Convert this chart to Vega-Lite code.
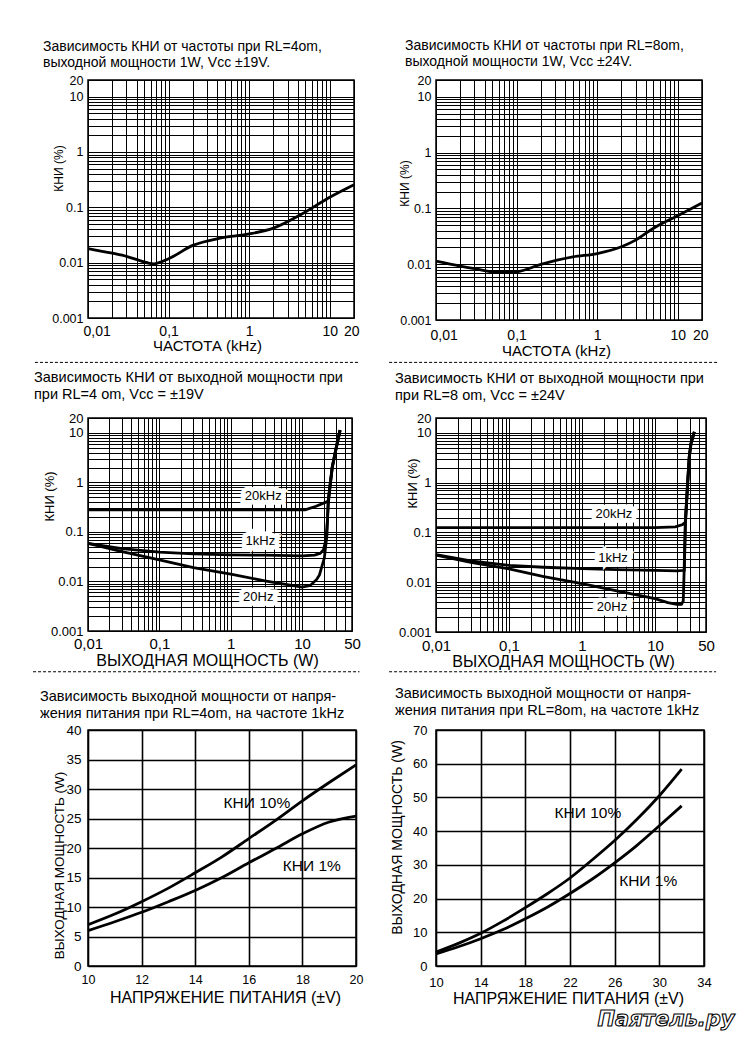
{
  "$schema": "https://vega.github.io/schema/vega-lite/v6.json",
  "background": "white",
  "padding": {"left": 32, "top": 37, "right": 5, "bottom": 5},
  "columns": 2,
  "bounds": "flush",
  "spacing": {"row": 38, "column": 80},
  "config": {
    "font": "Liberation Sans",
    "view": {"stroke": "black", "strokeWidth": 1.5},
    "axis": {"domain": false, "ticks": false, "grid": true, "gridColor": "black", "gridOpacity": 1, "gridWidth": 1, "labelColor": "black", "titleColor": "black", "labelFont": "Liberation Sans", "titleFont": "Liberation Sans", "titleFontWeight": "normal", "labelOverlap": false, "labelBound": false, "labelFlush": false},
    "title": {"font": "Liberation Sans", "fontSize": 14.5, "fontWeight": "normal", "color": "black", "lineHeight": 16.5}
  },
  "concat": [
    {
      "width": 266, "height": 238,
      "title": {"text": ["Зависимость КНИ от частоты при RL=4om,", "выходной мощности 1W, Vcc ±19V."], "anchor": "start", "frame": "group", "dx": -45, "offset": 4, "fontSize": 14},
      "data": {"values": [
        {"x": 0.01, "y": 0.018}, {"x": 0.02, "y": 0.0148}, {"x": 0.03, "y": 0.013}, {"x": 0.045, "y": 0.0108}, {"x": 0.065, "y": 0.0095}, {"x": 0.1, "y": 0.0118}, {"x": 0.2, "y": 0.0205}, {"x": 0.45, "y": 0.028}, {"x": 1, "y": 0.033}, {"x": 2, "y": 0.042}, {"x": 4.4, "y": 0.074}, {"x": 10, "y": 0.152}, {"x": 20, "y": 0.256}
      ]},
      "mark": {"type": "line", "color": "black", "strokeWidth": 2.8, "interpolate": "monotone"},
      "encoding": {
        "x": {"field": "x", "type": "quantitative", "scale": {"type": "log", "domain": [0.01, 20]},
          "axis": {"values": [0.01,0.02,0.03,0.04,0.05,0.06,0.07,0.08,0.09,0.1,0.2,0.3,0.4,0.5,0.6,0.7,0.8,0.9,1,2,3,4,5,6,7,8,9,10,20],
            "labelExpr": "indexof([0.01,0.1,1,10,20], datum.value) >= 0 ? replace(toString(datum.value), '.', ',') : ''",
            "labelFontSize": 14, "labelPadding": 6, "labelFlush": true, "labelFlushOffset": 5,
            "title": "ЧАСТОТА  (kHz)", "titleFontSize": 15, "titleX": 119, "titleY": 27, "titleBaseline": "middle"}},
        "y": {"field": "y", "type": "quantitative", "scale": {"type": "log", "domain": [0.001, 20]},
          "axis": {"values": [0.001,0.002,0.003,0.004,0.005,0.006,0.007,0.008,0.009,0.01,0.02,0.03,0.04,0.05,0.06,0.07,0.08,0.09,0.1,0.2,0.3,0.4,0.5,0.6,0.7,0.8,0.9,1,2,3,4,5,6,7,8,9,10,20],
            "labelExpr": "indexof([0.001,0.01,0.1,1,10,20], datum.value) >= 0 ? toString(datum.value) : ''",
            "labelFontSize": 12.5, "labelPadding": 5,
            "title": "КНИ (%)", "titleFontSize": 12, "titleX": -30, "titleY": 88, "titleBaseline": "middle"}}
      }
    },
    {
      "width": 266, "height": 240,
      "title": {"text": ["Зависимость КНИ от частоты при RL=8om,", "выходной мощности 1W, Vcc ±24V."], "anchor": "start", "frame": "group", "dx": -31, "offset": 5, "fontSize": 14},
      "data": {"values": [
        {"x": 0.01, "y": 0.0113}, {"x": 0.02, "y": 0.0092}, {"x": 0.03, "y": 0.0083}, {"x": 0.06, "y": 0.0071}, {"x": 0.1, "y": 0.0073}, {"x": 0.2, "y": 0.0099}, {"x": 0.5, "y": 0.0135}, {"x": 1, "y": 0.0155}, {"x": 2, "y": 0.0205}, {"x": 3, "y": 0.027}, {"x": 5, "y": 0.044}, {"x": 10, "y": 0.074}, {"x": 20, "y": 0.125}
      ]},
      "mark": {"type": "line", "color": "black", "strokeWidth": 2.8, "interpolate": "monotone"},
      "encoding": {
        "x": {"field": "x", "type": "quantitative", "scale": {"type": "log", "domain": [0.01, 20]},
          "axis": {"values": [0.01,0.02,0.03,0.04,0.05,0.06,0.07,0.08,0.09,0.1,0.2,0.3,0.4,0.5,0.6,0.7,0.8,0.9,1,2,3,4,5,6,7,8,9,10,20],
            "labelExpr": "indexof([0.01,0.1,1,10,20], datum.value) >= 0 ? replace(toString(datum.value), '.', ',') : ''",
            "labelFontSize": 14, "labelPadding": 8, "labelFlush": true, "labelFlushOffset": 6,
            "title": "ЧАСТОТА  (kHz)", "titleFontSize": 15, "titleX": 120, "titleY": 30, "titleBaseline": "middle"}},
        "y": {"field": "y", "type": "quantitative", "scale": {"type": "log", "domain": [0.001, 20]},
          "axis": {"values": [0.001,0.002,0.003,0.004,0.005,0.006,0.007,0.008,0.009,0.01,0.02,0.03,0.04,0.05,0.06,0.07,0.08,0.09,0.1,0.2,0.3,0.4,0.5,0.6,0.7,0.8,0.9,1,2,3,4,5,6,7,8,9,10,20],
            "labelExpr": "indexof([0.001,0.01,0.1,1,10,20], datum.value) >= 0 ? toString(datum.value) : ''",
            "labelFontSize": 12.5, "labelPadding": 5,
            "title": "КНИ (%)", "titleFontSize": 12, "titleX": -32, "titleY": 103, "titleBaseline": "middle"}}
      }
    },
    {
      "width": 268, "height": 22, "view": {"stroke": null},
      "data": {"values": [{}]},
      "mark": {"type": "rule", "strokeDash": [3, 2], "strokeWidth": 1, "color": "black"},
      "encoding": {
        "x": {"datum": -0.198, "type": "quantitative", "scale": {"domain": [0, 1]}, "axis": null},
        "x2": {"datum": 1.011},
        "y": {"datum": 0.8, "type": "quantitative", "scale": {"domain": [0, 1]}, "axis": null}
      }
    },
    {
      "width": 268, "height": 22, "view": {"stroke": null},
      "data": {"values": [{}]},
      "mark": {"type": "rule", "strokeDash": [3, 2], "strokeWidth": 1, "color": "black"},
      "encoding": {
        "x": {"datum": -0.175, "type": "quantitative", "scale": {"domain": [0, 1]}, "axis": null},
        "x2": {"datum": 1.056},
        "y": {"datum": 0.8, "type": "quantitative", "scale": {"domain": [0, 1]}, "axis": null}
      }
    },
    {
      "width": 264, "height": 213,
      "title": {"text": ["Зависимость КНИ от выходной мощности при", "при RL=4 om, Vcc = ±19V"], "anchor": "start", "frame": "group", "dx": -54, "offset": 10},
      "encoding": {
        "x": {"field": "x", "type": "quantitative", "scale": {"type": "log", "domain": [0.01, 50]},
          "axis": {"values": [0.01,0.02,0.03,0.04,0.05,0.06,0.07,0.08,0.09,0.1,0.2,0.3,0.4,0.5,0.6,0.7,0.8,0.9,1,2,3,4,5,6,7,8,9,10,20,30,40,50],
            "labelExpr": "indexof([0.01,0.1,1,10,50], datum.value) >= 0 ? replace(toString(datum.value), '.', ',') : ''",
            "labelFontSize": 15, "labelPadding": 5,
            "title": "ВЫХОДНАЯ МОЩНОСТЬ (W)", "titleFontSize": 16, "titleX": 119, "titleY": 29, "titleBaseline": "middle"}},
        "y": {"field": "y", "type": "quantitative", "scale": {"type": "log", "domain": [0.001, 20]},
          "axis": {"values": [0.001,0.002,0.003,0.004,0.005,0.006,0.007,0.008,0.009,0.01,0.02,0.03,0.04,0.05,0.06,0.07,0.08,0.09,0.1,0.2,0.3,0.4,0.5,0.6,0.7,0.8,0.9,1,2,3,4,5,6,7,8,9,10,20],
            "labelExpr": "indexof([0.001,0.01,0.1,1,10,20], datum.value) >= 0 ? toString(datum.value) : ''",
            "labelFontSize": 13, "labelPadding": 5,
            "title": "КНИ (%)", "titleFontSize": 13, "titleX": -39, "titleY": 78, "titleBaseline": "middle"}}
      },
      "layer": [
        {
          "data": {"values": [
            {"s": "20kHz", "x": 0.01, "y": 0.28}, {"s": "20kHz", "x": 0.1, "y": 0.28}, {"s": "20kHz", "x": 1, "y": 0.28}, {"s": "20kHz", "x": 11, "y": 0.28}, {"s": "20kHz", "x": 15.7, "y": 0.33}, {"s": "20kHz", "x": 21.6, "y": 0.4}, {"s": "20kHz", "x": 23.2, "y": 0.42}, {"s": "20kHz", "x": 24.5, "y": 0.8}, {"s": "20kHz", "x": 26.4, "y": 2}, {"s": "20kHz", "x": 29.3, "y": 4.2}, {"s": "20kHz", "x": 34, "y": 11.4},
            {"s": "1kHz", "x": 0.01, "y": 0.059}, {"s": "1kHz", "x": 0.03, "y": 0.046}, {"s": "1kHz", "x": 0.1, "y": 0.039}, {"s": "1kHz", "x": 0.3, "y": 0.036}, {"s": "1kHz", "x": 1, "y": 0.0345}, {"s": "1kHz", "x": 3, "y": 0.034}, {"s": "1kHz", "x": 10, "y": 0.033}, {"s": "1kHz", "x": 15, "y": 0.034}, {"s": "1kHz", "x": 18, "y": 0.037}, {"s": "1kHz", "x": 20, "y": 0.044}, {"s": "1kHz", "x": 21.5, "y": 0.07}, {"s": "1kHz", "x": 22.5, "y": 0.15}, {"s": "1kHz", "x": 23.4, "y": 0.4}, {"s": "1kHz", "x": 24.6, "y": 0.8}, {"s": "1kHz", "x": 26.5, "y": 2}, {"s": "1kHz", "x": 29.4, "y": 4.2}, {"s": "1kHz", "x": 34.2, "y": 11.4},
            {"s": "20Hz", "x": 0.01, "y": 0.059}, {"s": "20Hz", "x": 0.03, "y": 0.04}, {"s": "20Hz", "x": 0.1, "y": 0.0274}, {"s": "20Hz", "x": 0.3, "y": 0.019}, {"s": "20Hz", "x": 1, "y": 0.014}, {"s": "20Hz", "x": 3, "y": 0.0103}, {"s": "20Hz", "x": 10, "y": 0.0077}, {"s": "20Hz", "x": 13, "y": 0.0083}, {"s": "20Hz", "x": 16, "y": 0.011}, {"s": "20Hz", "x": 17.5, "y": 0.0136}, {"s": "20Hz", "x": 20.5, "y": 0.03}, {"s": "20Hz", "x": 22.3, "y": 0.088}, {"s": "20Hz", "x": 23.1, "y": 0.4}, {"s": "20Hz", "x": 24.4, "y": 0.8}, {"s": "20Hz", "x": 26.3, "y": 2}, {"s": "20Hz", "x": 29.2, "y": 4.2}, {"s": "20Hz", "x": 33.8, "y": 11.4}
          ]},
          "mark": {"type": "line", "color": "black", "strokeWidth": 2.8},
          "encoding": {"detail": {"field": "s"}}
        },
        {
          "data": {"values": [{"x": 2.85, "y": 0.53, "label": "20kHz"}, {"x": 2.6, "y": 0.065, "label": "1kHz"}, {"x": 2.43, "y": 0.0048, "label": "20Hz"}]},
          "mark": {"type": "text", "fontSize": 13, "fill": "white", "stroke": "white", "strokeWidth": 9},
          "encoding": {"text": {"field": "label"}}
        },
        {
          "data": {"values": [{"x": 2.85, "y": 0.53, "label": "20kHz"}, {"x": 2.6, "y": 0.065, "label": "1kHz"}, {"x": 2.43, "y": 0.0048, "label": "20Hz"}]},
          "mark": {"type": "text", "fontSize": 13, "color": "black"},
          "encoding": {"text": {"field": "label"}}
        }
      ]
    },
    {
      "width": 270, "height": 214,
      "title": {"text": ["Зависимость КНИ от выходной мощности при", "при RL=8 om, Vcc = ±24V"], "anchor": "start", "frame": "group", "dx": -41, "offset": 9},
      "encoding": {
        "x": {"field": "x", "type": "quantitative", "scale": {"type": "log", "domain": [0.01, 50]},
          "axis": {"values": [0.01,0.02,0.03,0.04,0.05,0.06,0.07,0.08,0.09,0.1,0.2,0.3,0.4,0.5,0.6,0.7,0.8,0.9,1,2,3,4,5,6,7,8,9,10,20,30,40,50],
            "labelExpr": "indexof([0.01,0.1,1,10,50], datum.value) >= 0 ? replace(toString(datum.value), '.', ',') : ''",
            "labelFontSize": 15, "labelPadding": 6,
            "title": "ВЫХОДНАЯ МОЩНОСТЬ (W)", "titleFontSize": 16, "titleX": 127, "titleY": 29, "titleBaseline": "middle"}},
        "y": {"field": "y", "type": "quantitative", "scale": {"type": "log", "domain": [0.001, 20]},
          "axis": {"values": [0.001,0.002,0.003,0.004,0.005,0.006,0.007,0.008,0.009,0.01,0.02,0.03,0.04,0.05,0.06,0.07,0.08,0.09,0.1,0.2,0.3,0.4,0.5,0.6,0.7,0.8,0.9,1,2,3,4,5,6,7,8,9,10,20],
            "labelExpr": "indexof([0.001,0.01,0.1,1,10,20], datum.value) >= 0 ? toString(datum.value) : ''",
            "labelFontSize": 13, "labelPadding": 5,
            "title": "КНИ (%)", "titleFontSize": 13, "titleX": -24, "titleY": 65, "titleBaseline": "middle"}}
      },
      "layer": [
        {
          "data": {"values": [
            {"s": "20kHz", "x": 0.01, "y": 0.125}, {"s": "20kHz", "x": 0.1, "y": 0.125}, {"s": "20kHz", "x": 1, "y": 0.125}, {"s": "20kHz", "x": 10, "y": 0.125}, {"s": "20kHz", "x": 19, "y": 0.13}, {"s": "20kHz", "x": 24, "y": 0.145}, {"s": "20kHz", "x": 26.1, "y": 0.16}, {"s": "20kHz", "x": 28, "y": 0.96}, {"s": "20kHz", "x": 29.5, "y": 3.3}, {"s": "20kHz", "x": 31.1, "y": 6.1}, {"s": "20kHz", "x": 34.6, "y": 10.5},
            {"s": "1kHz", "x": 0.01, "y": 0.036}, {"s": "1kHz", "x": 0.03, "y": 0.027}, {"s": "1kHz", "x": 0.1, "y": 0.0219}, {"s": "1kHz", "x": 0.3, "y": 0.02}, {"s": "1kHz", "x": 1, "y": 0.0188}, {"s": "1kHz", "x": 3, "y": 0.018}, {"s": "1kHz", "x": 10, "y": 0.0174}, {"s": "1kHz", "x": 20, "y": 0.017}, {"s": "1kHz", "x": 25.2, "y": 0.0174}, {"s": "1kHz", "x": 26.2, "y": 0.16}, {"s": "1kHz", "x": 28.1, "y": 0.96}, {"s": "1kHz", "x": 29.6, "y": 3.3}, {"s": "1kHz", "x": 31.2, "y": 6.1}, {"s": "1kHz", "x": 34.7, "y": 10.5},
            {"s": "20Hz", "x": 0.01, "y": 0.035}, {"s": "20Hz", "x": 0.03, "y": 0.025}, {"s": "20Hz", "x": 0.1, "y": 0.0185}, {"s": "20Hz", "x": 0.3, "y": 0.013}, {"s": "20Hz", "x": 1, "y": 0.0094}, {"s": "20Hz", "x": 3, "y": 0.0067}, {"s": "20Hz", "x": 10, "y": 0.0047}, {"s": "20Hz", "x": 15, "y": 0.0039}, {"s": "20Hz", "x": 20, "y": 0.0036}, {"s": "20Hz", "x": 23, "y": 0.0036}, {"s": "20Hz", "x": 24.4, "y": 0.0042}, {"s": "20Hz", "x": 25.1, "y": 0.0174}, {"s": "20Hz", "x": 26, "y": 0.16}, {"s": "20Hz", "x": 27.9, "y": 0.96}, {"s": "20Hz", "x": 29.4, "y": 3.3}, {"s": "20Hz", "x": 31, "y": 6.1}, {"s": "20Hz", "x": 34.5, "y": 10.5}
          ]},
          "mark": {"type": "line", "color": "black", "strokeWidth": 2.8},
          "encoding": {"detail": {"field": "s"}}
        },
        {
          "data": {"values": [{"x": 2.74, "y": 0.235, "label": "20kHz"}, {"x": 2.66, "y": 0.0307, "label": "1kHz"}, {"x": 2.58, "y": 0.00318, "label": "20Hz"}]},
          "mark": {"type": "text", "fontSize": 13, "fill": "white", "stroke": "white", "strokeWidth": 9},
          "encoding": {"text": {"field": "label"}}
        },
        {
          "data": {"values": [{"x": 2.74, "y": 0.235, "label": "20kHz"}, {"x": 2.66, "y": 0.0307, "label": "1kHz"}, {"x": 2.58, "y": 0.00318, "label": "20Hz"}]},
          "mark": {"type": "text", "fontSize": 13, "color": "black"},
          "encoding": {"text": {"field": "label"}}
        }
      ]
    },
    {
      "width": 268, "height": 22, "view": {"stroke": null},
      "data": {"values": [{}]},
      "mark": {"type": "rule", "strokeDash": [3, 2], "strokeWidth": 1, "color": "black"},
      "encoding": {
        "x": {"datum": -0.205, "type": "quantitative", "scale": {"domain": [0, 1]}, "axis": null},
        "x2": {"datum": 1.013},
        "y": {"datum": 0.92, "type": "quantitative", "scale": {"domain": [0, 1]}, "axis": null}
      }
    },
    {
      "width": 268, "height": 22, "view": {"stroke": null},
      "data": {"values": [{}]},
      "mark": {"type": "rule", "strokeDash": [3, 2], "strokeWidth": 1, "color": "black"},
      "encoding": {
        "x": {"datum": -0.175, "type": "quantitative", "scale": {"domain": [0, 1]}, "axis": null},
        "x2": {"datum": 1.045},
        "y": {"datum": 0.92, "type": "quantitative", "scale": {"domain": [0, 1]}, "axis": null}
      }
    },
    {
      "width": 268, "height": 236,
      "title": {"text": ["Зависимость выходной мощности от напря-", "жения питания при RL=4om, на частоте 1kHz"], "anchor": "start", "frame": "group", "dx": -48, "offset": 2},
      "encoding": {
        "x": {"field": "x", "type": "quantitative", "scale": {"domain": [10, 20]},
          "axis": {"values": [10, 12, 14, 16, 18, 20], "gridWidth": 1.6, "labelFontSize": 12.5, "labelPadding": 7,
            "title": "НАПРЯЖЕНИЕ ПИТАНИЯ  (±V)", "titleFontSize": 16, "titleX": 137, "titleY": 31, "titleBaseline": "middle"}},
        "y": {"field": "y", "type": "quantitative", "scale": {"domain": [0, 40]},
          "axis": {"values": [0, 5, 10, 15, 20, 25, 30, 35, 40], "gridWidth": 1.6, "labelFontSize": 13.5, "labelPadding": 7,
            "title": "ВЫХОДНАЯ МОЩНОСТЬ (W)", "titleFontSize": 13.5, "titleX": -29, "titleY": 135, "titleBaseline": "middle"}}
      },
      "layer": [
        {
          "data": {"values": [
            {"s": "10", "x": 10, "y": 7}, {"s": "10", "x": 11, "y": 8.8}, {"s": "10", "x": 12, "y": 10.9}, {"s": "10", "x": 13, "y": 13.2}, {"s": "10", "x": 14, "y": 15.8}, {"s": "10", "x": 15, "y": 18.5}, {"s": "10", "x": 16, "y": 21.6}, {"s": "10", "x": 17, "y": 24.7}, {"s": "10", "x": 18, "y": 28}, {"s": "10", "x": 19, "y": 31.1}, {"s": "10", "x": 20, "y": 34.1},
            {"s": "1", "x": 10, "y": 6}, {"s": "1", "x": 11, "y": 7.5}, {"s": "1", "x": 12, "y": 9.1}, {"s": "1", "x": 13, "y": 10.9}, {"s": "1", "x": 14, "y": 12.8}, {"s": "1", "x": 15, "y": 15}, {"s": "1", "x": 16, "y": 17.5}, {"s": "1", "x": 17, "y": 19.9}, {"s": "1", "x": 18, "y": 22.4}, {"s": "1", "x": 19, "y": 24.4}, {"s": "1", "x": 20, "y": 25.4}
          ]},
          "mark": {"type": "line", "color": "black", "strokeWidth": 2.8, "interpolate": "monotone"},
          "encoding": {"detail": {"field": "s"}}
        },
        {
          "data": {"values": [{"x": 16.3, "y": 27.6, "label": "КНИ 10%"}, {"x": 18.35, "y": 16.9, "label": "КНИ 1%"}]},
          "mark": {"type": "text", "fontSize": 15.5, "color": "black"},
          "encoding": {"text": {"field": "label"}}
        }
      ]
    },
    {
      "width": 268, "height": 236,
      "title": {"text": ["Зависимость выходной мощности от напря-", "жения питания при RL=8om, на частоте 1kHz"], "anchor": "start", "frame": "group", "dx": -41, "offset": 6},
      "layer": [
        {
          "data": {"values": [
            {"s": "10", "x": 10, "y": 4.1}, {"s": "10", "x": 12, "y": 6.7}, {"s": "10", "x": 14, "y": 9.7}, {"s": "10", "x": 16, "y": 13.3}, {"s": "10", "x": 18, "y": 17.3}, {"s": "10", "x": 20, "y": 21.5}, {"s": "10", "x": 22, "y": 26.1}, {"s": "10", "x": 24, "y": 31.5}, {"s": "10", "x": 26, "y": 37.2}, {"s": "10", "x": 28, "y": 43.5}, {"s": "10", "x": 30, "y": 50.5}, {"s": "10", "x": 32, "y": 58.4},
            {"s": "1", "x": 10, "y": 3.6}, {"s": "1", "x": 12, "y": 5.7}, {"s": "1", "x": 14, "y": 8.1}, {"s": "1", "x": 16, "y": 10.8}, {"s": "1", "x": 18, "y": 14}, {"s": "1", "x": 20, "y": 17.5}, {"s": "1", "x": 22, "y": 21.5}, {"s": "1", "x": 24, "y": 25.8}, {"s": "1", "x": 26, "y": 30.6}, {"s": "1", "x": 28, "y": 35.8}, {"s": "1", "x": 30, "y": 41.6}, {"s": "1", "x": 32, "y": 47.5}
          ]},
          "mark": {"type": "line", "color": "black", "strokeWidth": 2.8, "interpolate": "monotone"},
          "encoding": {
            "x": {"field": "x", "type": "quantitative", "scale": {"domain": [10, 34]},
              "axis": {"values": [10, 14, 18, 22, 26, 30, 34], "gridWidth": 1.6, "labelFontSize": 13, "labelPadding": 10,
                "title": "НАПРЯЖЕНИЕ ПИТАНИЯ  (±V)", "titleFontSize": 16, "titleX": 132, "titleY": 32, "titleBaseline": "middle"}},
            "y": {"field": "y", "type": "quantitative", "scale": {"domain": [0, 70]},
              "axis": {"values": [0, 10, 20, 30, 40, 50, 60, 70], "gridWidth": 1.6, "labelFontSize": 13, "labelPadding": 9,
                "title": "ВЫХОДНАЯ МОЩНОСТЬ (W)", "titleFontSize": 14, "titleX": -39, "titleY": 107, "titleBaseline": "middle"}},
            "detail": {"field": "s"}
          }
        },
        {
          "data": {"values": [{"x": 23.6, "y": 45.3, "label": "КНИ 10%"}, {"x": 29.0, "y": 25.2, "label": "КНИ 1%"}]},
          "mark": {"type": "text", "fontSize": 15.5, "color": "black"},
          "encoding": {
            "x": {"field": "x", "type": "quantitative", "scale": {"domain": [10, 34]},
              "axis": {"values": [10, 14, 18, 22, 26, 30, 34], "gridWidth": 1.6, "labelFontSize": 13, "labelPadding": 10,
                "title": "НАПРЯЖЕНИЕ ПИТАНИЯ  (±V)", "titleFontSize": 16, "titleX": 132, "titleY": 32, "titleBaseline": "middle"}},
            "y": {"field": "y", "type": "quantitative", "scale": {"domain": [0, 70]},
              "axis": {"values": [0, 10, 20, 30, 40, 50, 60, 70], "gridWidth": 1.6, "labelFontSize": 13, "labelPadding": 9,
                "title": "ВЫХОДНАЯ МОЩНОСТЬ (W)", "titleFontSize": 14, "titleX": -39, "titleY": 107, "titleBaseline": "middle"}},
            "text": {"field": "label"}
          }
        },
        {
          "data": {"values": [{"t": "Паятель.ру"}]},
          "mark": {"type": "text", "font": "DejaVu Sans", "fontStyle": "italic", "fontWeight": "bold", "fontSize": 21, "fill": "white", "stroke": "black", "strokeWidth": 1.1},
          "encoding": {
            "x": {"datum": 30.6, "type": "quantitative", "scale": {"domain": [10, 34]},
              "axis": {"values": [10, 14, 18, 22, 26, 30, 34], "gridWidth": 1.6, "labelFontSize": 13, "labelPadding": 10,
                "title": "НАПРЯЖЕНИЕ ПИТАНИЯ  (±V)", "titleFontSize": 16, "titleX": 132, "titleY": 32, "titleBaseline": "middle"}},
            "y": {"datum": -16, "type": "quantitative", "scale": {"domain": [0, 70]},
              "axis": {"values": [0, 10, 20, 30, 40, 50, 60, 70], "gridWidth": 1.6, "labelFontSize": 13, "labelPadding": 9,
                "title": "ВЫХОДНАЯ МОЩНОСТЬ (W)", "titleFontSize": 14, "titleX": -39, "titleY": 107, "titleBaseline": "middle"}},
            "text": {"field": "t"}
          }
        }
      ]
    }
  ]
}
